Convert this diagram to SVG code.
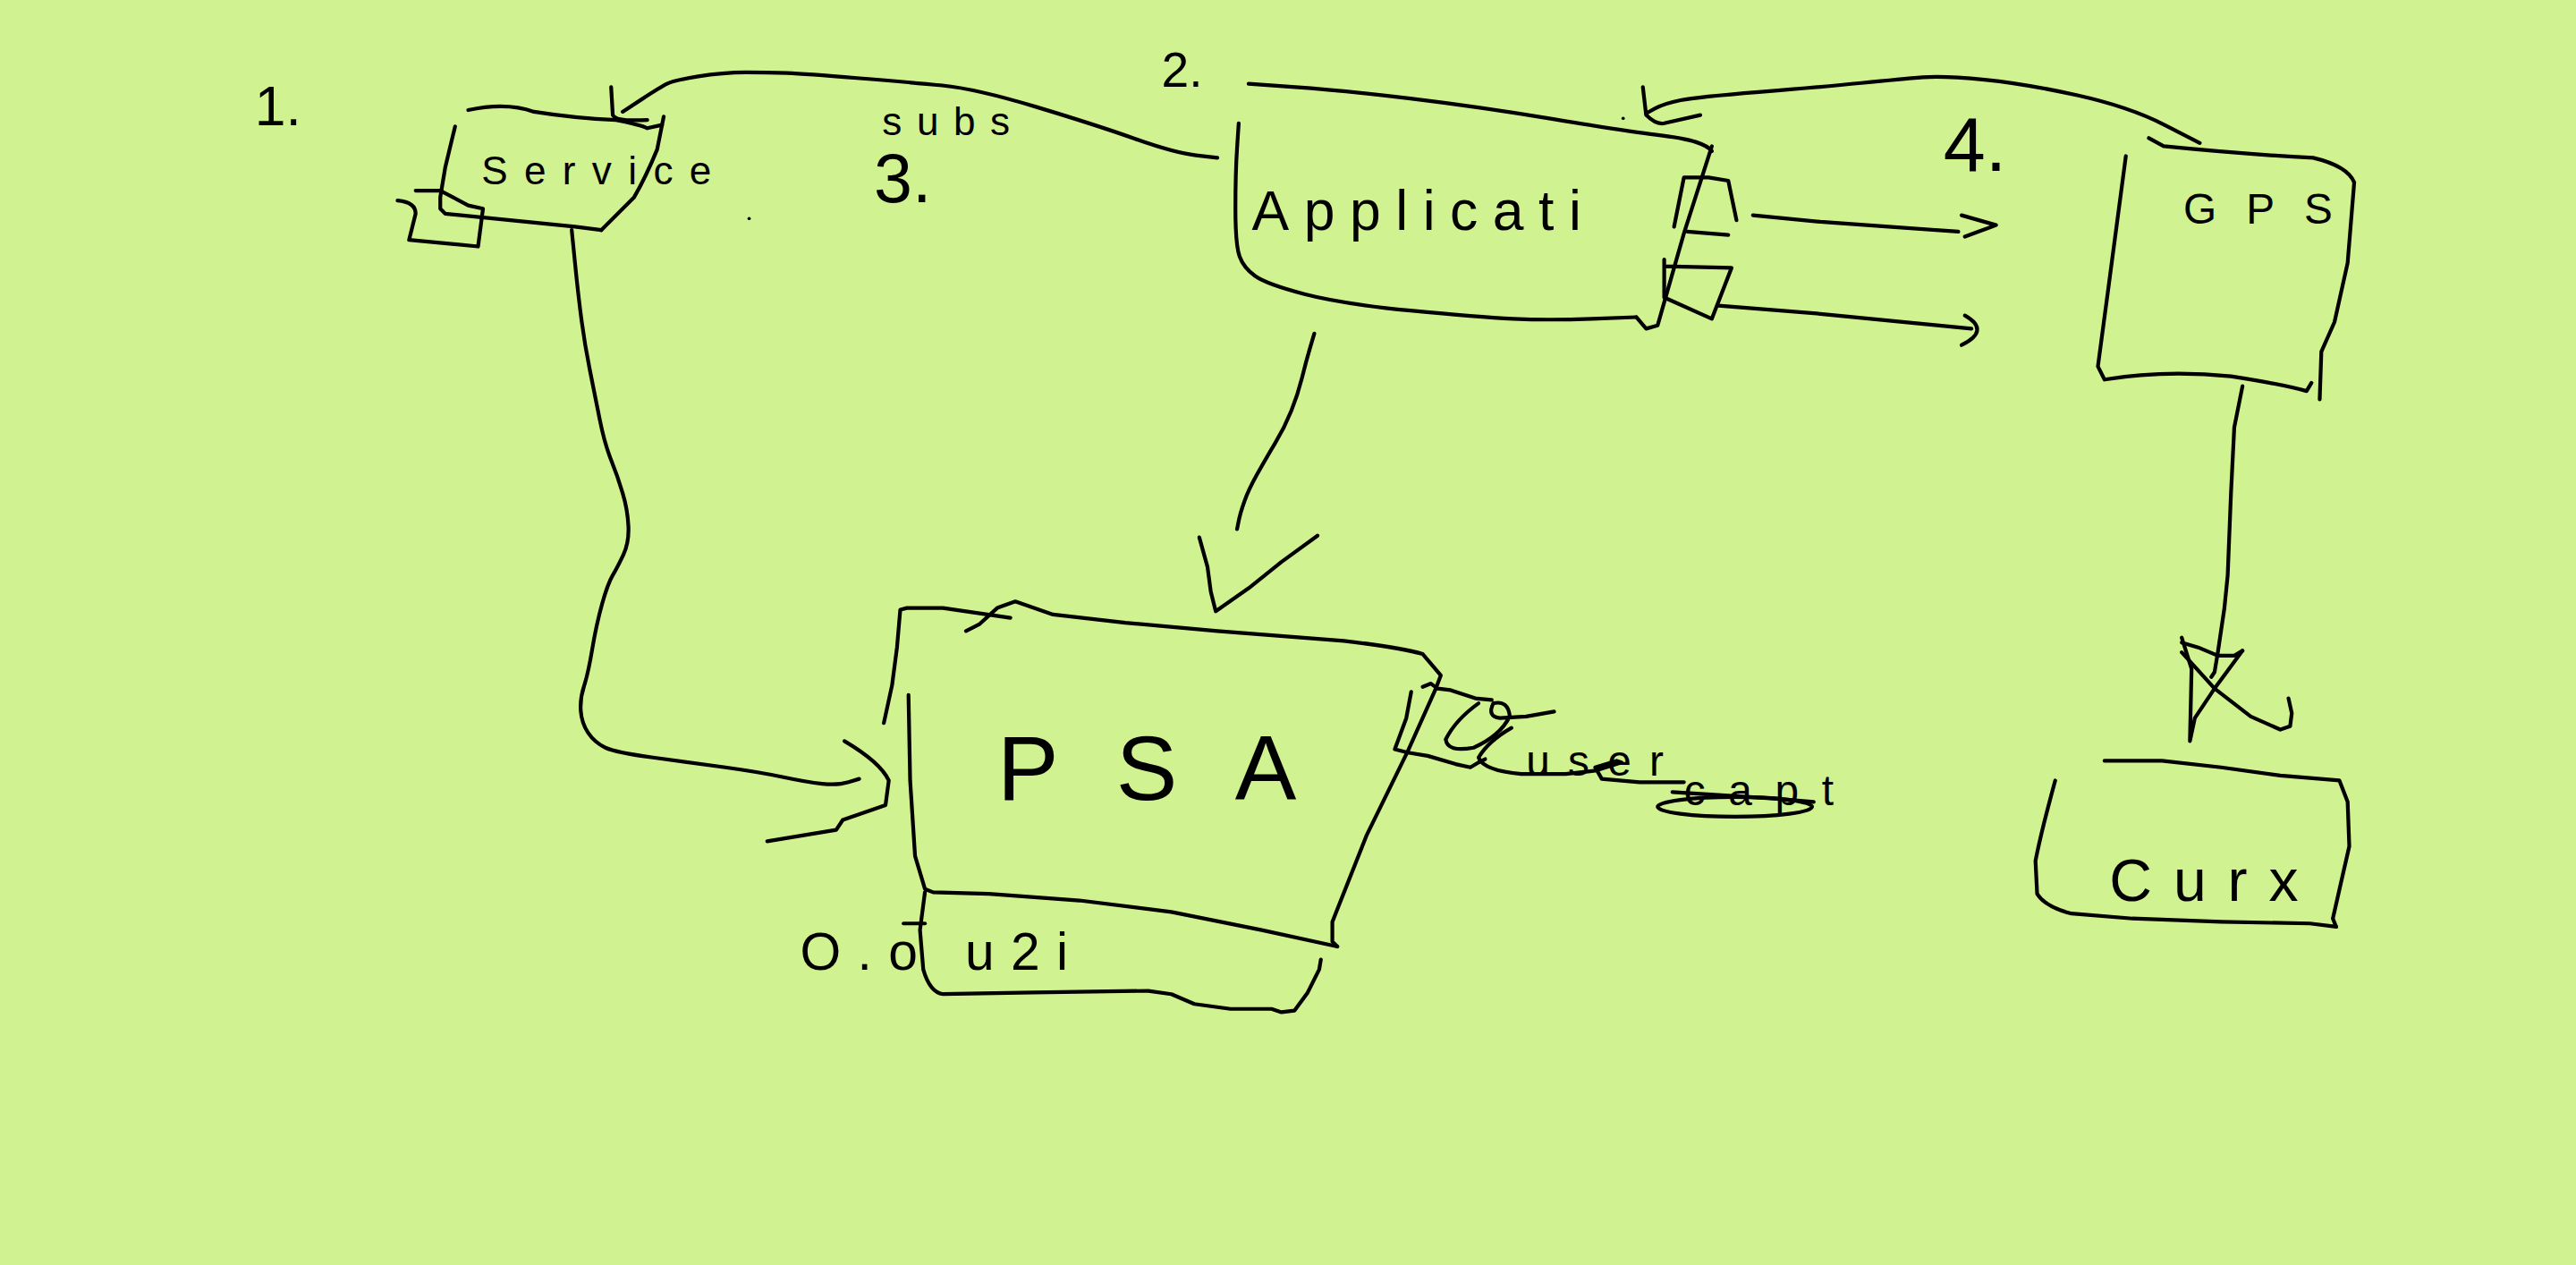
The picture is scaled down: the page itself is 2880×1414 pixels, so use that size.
<svg xmlns="http://www.w3.org/2000/svg" width="2880" height="1414" viewBox="0 0 2880 1414">
<style>
.s{fill:none;stroke:#000;stroke-width:2.3;stroke-linecap:round;stroke-linejoin:round}
.t{font-family:"Liberation Sans",Arial,sans-serif;fill:#000}
</style>
<rect width="2880" height="1414" fill="#D0F291"/>
<g transform="scale(1.83673)">
<g id="labels">
<text class="t" x="155" y="76" font-size="34">1.</text>
<text class="t" x="707" y="53" font-size="30">2.</text>
<text class="t" x="532" y="123" font-size="42">3.</text>
<text class="t" x="1183" y="104" font-size="46">4.</text>
<text class="t" x="537" y="82" font-size="24" letter-spacing="9">subs</text>
<circle cx="456" cy="133" r="1"/>
</g>
<g id="service">
<path class="s" d="M285,67 Q308,62 325,68 Q350,72 375,73 Q390,76 394,78 L403,76"/>
<path class="s" d="M404,71 L400,91 Q393,108 386,120 L366,140"/>
<path class="s" d="M277,77 L271,102 L268,120 L268,127 L271,130 L350,138 L366,140"/>
<path class="s" d="M242,122 Q253,123 253,130 L249,146 L291,150 L294,127 L285,125 L268,116 L253,116"/>
<text class="t" x="293" y="112" font-size="24" letter-spacing="10">Service</text>
</g>
<g id="application">
<path class="s" d="M760,51 L788.5,53 Q817,55 858.5,60 Q900,65 945.5,72.5 Q991,80 1008,82 Q1025,84 1032.5,86.5 Q1040,89 1042,92"/>
<path class="s" d="M1042,89 L1025,142 L1009,198 L1002,200 L996,193"/>
<path class="s" d="M754,75 L753,90 Q752,105 752,127 Q752,149 754.5,156 Q757,163 764,168 Q771,173 794,179 Q817,185 858.5,189 Q900,193 921,194 Q942,195 969,194 L996,193"/>
<path class="s" d="M1019,138 L1025,108 L1040,108 L1052,110 L1057,134"/>
<path class="s" d="M1027,141 L1052,143"/>
<path class="s" d="M1013,158 L1013,181 L1042,194 L1054,163 L1013,162"/>
<text class="t" x="762" y="140" font-size="34" letter-spacing="9">Applicati</text>
</g>
<g id="gps">
<path class="s" d="M1308,84 L1317,89 Q1367,94 1408,96 Q1429,101 1433,111 L1429,160 L1421,196 L1413,214 L1412,243"/>
<path class="s" d="M1294,95 L1283,178 L1277,223 L1281,231 Q1317,225 1358,229 Q1390,234 1404,238 L1407,233"/>
<text class="t" x="1329" y="136" font-size="26" letter-spacing="18">GPS</text>
</g>
<g id="psa">
<path class="s" d="M538,440 L543,417 L546,394 L548,371 L552,370 L574,370 L615,376"/>
<path class="s" d="M588,384 L596,380 L607,370 L618,366 L641,374 L685,379 L741,384 L818,390 Q852,394 866,398 L877,411 L874,419 L857,457 L832,508 L811,561 L811,573 L814,576"/>
<path class="s" d="M553,423 L554,475 L557,521 L563,541 L568,543 L602,544 L657,548 L713,555 L768,566 L814,576"/>
<path class="s" d="M563,543 L560,566 L562,590 Q566,604 574,605 L629,604 L699,603 L713,605 L727,611 L749,614 L774,614 L780,616 L788,615 L796,604 L803,590 L804,584"/>
<path class="s" d="M550,562 L563,562"/>
<text class="t" x="607" y="487" font-size="56" letter-spacing="35">PSA</text>
<text class="t" x="487" y="590" font-size="32" letter-spacing="10">O.o u2i</text>
</g>
<g id="user">
<path class="s" d="M859,421 L856,437 L849,456 L857,458 L869,460 L886,465 L895,467 L900,464 L904,462"/>
<path class="s" d="M866,418 L871,416 L875,419 L883,420 L898,425 L908,426"/>
<path class="s" d="M900,428 Q886,438 880,450 Q881,458 897,455 Q913,448 919,436 Q918,426 909,428 Q905,436 913,437 L929,436 L946,433"/>
<path class="s" d="M920,443 Q906,451 900,461 Q903,469 926,471 L953,471 L971,469 L987,464 L984,463 L971,467 L975,474 L998,476 L1025,476"/>
<text class="t" x="929" y="472" font-size="26" letter-spacing="11">user</text>
<text class="t" x="1025" y="490" font-size="26" letter-spacing="14">capt</text>
<ellipse class="s" cx="1056" cy="491" rx="47" ry="6"/>
<path class="s" d="M1018,482 L1080,486 L1104,488"/>
</g>
<g id="cux">
<path class="s" d="M1281,463 L1316,463 L1352,467 L1388,472 L1424,475 L1429,488 L1430,515 L1425,537 L1420,559 L1422,564"/>
<path class="s" d="M1422,564 L1406,562 L1352,561 L1298,559 L1261,556 Q1245,552 1240,544 L1239,524 Q1242,508 1251,475"/>
<text class="t" x="1284" y="548" font-size="36" letter-spacing="13">Curx</text>
</g>
<g id="connectors">
<path class="s" d="M741,96 L728,94.5 Q715,93 691,84.5 Q667,76 630.5,65 Q594,54 573.5,52 Q553,50 521.5,47.5 Q490,45 479,44.5 Q468,44 454,44 Q440,44 425,46.5 Q410,49 406,51 Q402,53 390.5,60.5 L379,68"/>
<path class="s" d="M372,53 L373,70 Q375,74 394,73"/>
<path class="s" d="M348,140 L350,160 Q352,180 354,195 Q356,210 359,225 Q362,240 365,255 Q368,270 372,280 Q376,290 379,300 Q382,310 382.5,320 Q383,330 379.5,337.5 Q376,345 373,350 Q370,355 366.5,367.5 Q363,380 360.5,395 Q358,410 355.5,417.5 Q353,425 353.5,432.5 Q354,440 358,446 Q362,452 368.5,455 Q375,458 397.5,461 Q420,464 441.5,467 Q463,470 477,473 Q491,476 500.5,477 Q510,478 516.5,476 L523,474"/>
<path class="s" d="M514,451 Q536,464 541,475 L539,490 L513,499 L509,505 L467,512"/>
<path class="s" d="M800,203 L797.5,211.5 Q795,220 792.5,230 Q790,240 786,250 Q782,260 776,270 Q770,280 765,289 Q760,298 757.5,305 Q755,312 754,317 L753,322"/>
<path class="s" d="M730,327 L735,345 L737,360 L740,372 L760,358 L780,342 L802,326"/>
<path class="s" d="M1339,87 L1317.5,76 Q1296,65 1264.5,58 Q1233,51 1208,48.5 Q1183,46 1170.5,47 Q1158,48 1133,50.5 Q1108,53 1070.5,56 Q1033,59 1023,61 Q1013,63 1007.5,66 L1002,69"/>
<path class="s" d="M1000,53 L1002,70 Q1008,76 1013,75 L1035,70"/>
<circle cx="988" cy="72" r="1"/>
<path class="s" d="M1067,131 L1108,135 L1192,141"/>
<path class="s" d="M1194,131 L1215,137 L1196,144"/>
<path class="s" d="M1046,186 L1108,191 L1200,200"/>
<path class="s" d="M1196,192 Q1212,201 1194,210"/>
<path class="s" d="M1365,235 L1360,260 L1358,300 L1356,350 L1354,370 L1350,397 L1348,409 L1346,412"/>
<path class="s" d="M1328,388 L1334,407 L1333,451 L1336,437 L1348,419 L1365,396"/>
<path class="s" d="M1328,391 L1338,394 L1350,399 L1360,399 L1365,396"/>
<path class="s" d="M1328,397 L1348,419 L1370,436 L1388,444 L1394,442 L1395,434 L1393,425"/>
</g>
</g>
</svg>
